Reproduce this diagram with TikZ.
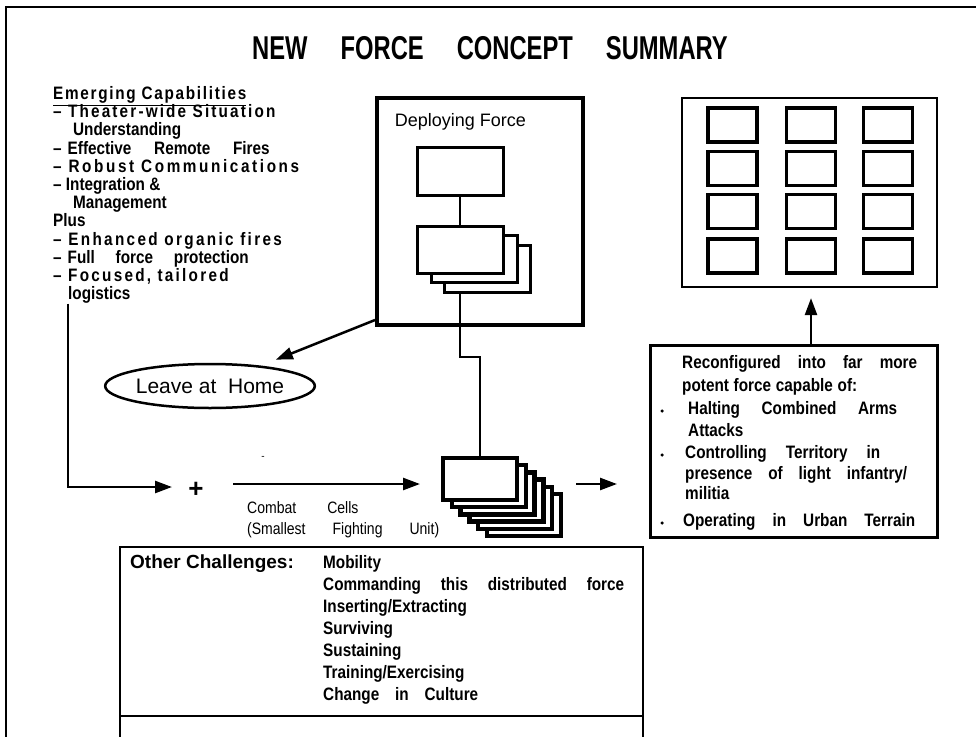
\documentclass[tikz,border=0pt]{standalone}
\usepackage{fontspec}
\setmainfont{Liberation Sans}
\newfontfamily\nar{Liberation Sans}[FakeStretch=0.85]
\newfontfamily\cond{Liberation Sans}[FakeStretch=0.72]
\newcommand\lsp[2]{{\addfontfeature{LetterSpace=#1}#2}}
\usetikzlibrary{arrows.meta,shapes.geometric}
\begin{document}
\begin{tikzpicture}[x=1pt,y=-1pt,
  every node/.style={inner sep=0pt},
  frame/.style={line width=2.5pt},
  dbox/.style={draw,line width=4pt,fill=white},
  cbox/.style={draw,line width=3pt,fill=white},
  sbox/.style={draw,line width=4.5pt,fill=white,minimum width=74pt,minimum height=42pt},
  gbox/.style={draw,line width=3.2pt,minimum width=49pt,minimum height=34pt},
  rbox/.style={draw,line width=3pt},
  obox/.style={draw,line width=2pt},
  conn/.style={line width=2.5pt},
  arr/.style={line width=2.5pt,-{Triangle[length=17pt,width=12pt]}},
  ltxt/.style={anchor=base west,font=\nar\bfseries\fontsize{18}{20}\selectfont},
  rtxt/.style={anchor=base west,font=\nar\bfseries\fontsize{18}{20}\selectfont},
  ctxt/.style={anchor=base west,font=\nar\fontsize{16.5}{18}\selectfont},
  bullet/.style={circle,fill,minimum size=3.5pt}
]
\useasboundingbox (0,0) rectangle (976,736);
\fill[white] (0,0) rectangle (976,736);
% outer frame
\draw[frame] (6,745) -- (6,7) -- (985,7);
% title
\node[font=\cond\bfseries\fontsize{33}{35}\selectfont] (title) at (490,48)
  {NEW\hspace{33pt}FORCE\hspace{33pt}CONCEPT\hspace{33pt}SUMMARY};
% left text
\node[ltxt] (L0) at (53,99.5) {\underline{\lsp{9.5}{Emerging Capabilities}}};
\node[ltxt] (L1) at (53,117.7) {\lsp{12}{– Theater-wide Situation}};
\node[ltxt] (L2) at (73,135.9) {Understanding};
\node[ltxt] (L3) at (53,154.1) {–\hspace{6pt}\makebox[202pt][s]{Effective Remote Fires}};
\node[ltxt] (L4) at (53,172.3) {\lsp{14.5}{– Robust Communications}};
\node[ltxt] (L5) at (53,190.5) {– Integration \&};
\node[ltxt] (L6) at (73,208.7) {Management};
\node[ltxt] (L7) at (53,226.9) {Plus};
\node[ltxt] (L8) at (53,245.1) {\lsp{13}{– Enhanced organic fires}};
\node[ltxt] (L9) at (53,263.3) {–\hspace{6pt}\makebox[181pt][s]{Full force protection}};
\node[ltxt] (L10) at (53,281.5) {\lsp{12.5}{– Focused, tailored}};
\node[ltxt] (L11) at (68,299.7) {logistics};
% deploying force
\node[dbox,minimum width=206pt,minimum height=227pt] (deploy) at (480,211.5) {};
\node[anchor=base,font=\fontsize{18}{20}\selectfont] (dlabel) at (460.5,126.5) {Deploying Force};
\node[cbox,minimum width=86pt,minimum height=48pt] (A) at (460,171) {};
\node[cbox,minimum width=86pt,minimum height=47pt] (F3) at (487,268.5) {};
\node[cbox,minimum width=86pt,minimum height=47pt] (F2) at (474,259) {};
\node[cbox,minimum width=86pt,minimum height=47pt] (F1) at (460,249.5) {};
\draw[conn] (A.south) -- (F1.north);
% leave at home
\node[draw,ellipse,line width=2.5pt,minimum width=184pt,minimum height=44pt,
  font=\fontsize{21}{23}\selectfont] (home) at (210,386) {Leave at\ \ Home};
\draw[arr,shorten >=16pt] ([yshift=7pt]deploy.south west) -- (home);
% combat cells stack
\foreach \k in {5,4,...,0}
  \node[sbox] (C\k) at ({480+8.8*\k},{479+7.2*\k}) {};
\draw[conn] (A.south |- F3.south) -- (460,357) -| (C0.north);
% plus and arrows
\node[font=\bfseries\fontsize{26}{28}\selectfont] (plus) at (196,490) {+};
\node[font=\fontsize{10}{10}\selectfont] (dash) at (263,458) {-};
\coordinate (pa) at (172,487);
\draw[arr] (L11.south west) |- (pa);
\coordinate (ca1) at (233,484);
\coordinate (ca2) at (420,484);
\draw[arr] (ca1) -- (ca2);
\coordinate (sa1) at (576,484);
\coordinate (sa2) at (617,484);
\draw[arr] (sa1) -- (sa2);
\node[ctxt] (cc1) at (247,513) {Combat\hspace{31pt}Cells};
\node[ctxt] (cc2) at (247,534) {\makebox[192pt][s]{(Smallest Fighting Unit)}};
% grid box
\node[draw,line width=2.2pt,minimum width=255pt,minimum height=189pt] (grid) at (809.5,192.5) {};
\foreach \i/\x in {1/732.5,2/811,3/888}
  \foreach \j/\y in {1/125,2/168.5,3/211.5,4/256}
    \node[gbox] (G\i\j) at (\x,\y) {};
% reconfigured box
\node[rbox,minimum width=287pt,minimum height=192pt] (recon) at (793.5,441) {};
\draw[arr,shorten >=10pt] (G24.south |- recon.north) -- (G24.south |- grid.south);
\node[rtxt] (R1) at (682,368.5) {\makebox[235pt][s]{Reconfigured into far more}};
\node[rtxt] (R2) at (682,391.5) {\makebox[175pt][s]{potent force capable of:}};
\node[rtxt] (R3) at (688,414.5) {\makebox[209pt][s]{Halting Combined Arms}};
\node[rtxt] (R4) at (688,436.5) {Attacks};
\node[rtxt] (R5) at (685,458.5) {\makebox[195pt][s]{Controlling Territory in}};
\node[rtxt] (R6) at (685,479.5) {\makebox[222pt][s]{presence of light infantry/}};
\node[rtxt] (R7) at (685,499.5) {militia};
\node[rtxt] (R8) at (683,526.5) {\makebox[232pt][s]{Operating in Urban Terrain}};
\node[bullet] (b1) at (662,411) {};
\node[bullet] (b2) at (662,455) {};
\node[bullet] (b3) at (662,523) {};
% other challenges
\node[obox,minimum width=523pt,minimum height=200pt] (other) at (381.5,647) {};
\draw[obox] (other.west |- 0,716) -- (other.east |- 0,716);
\node[anchor=base west,font=\bfseries\fontsize{19}{21}\selectfont] (oc) at (130,568.5) {Other Challenges:};
\node[rtxt] (O1) at (323,568.5) {Mobility};
\node[rtxt] (O2) at (323,590.5) {\makebox[301pt][s]{Commanding this distributed force}};
\node[rtxt] (O3) at (323,612.5) {Inserting/Extracting};
\node[rtxt] (O4) at (323,634.5) {Surviving};
\node[rtxt] (O5) at (323,656.5) {Sustaining};
\node[rtxt] (O6) at (323,678.5) {Training/Exercising};
\node[rtxt] (O7) at (323,700.5) {\makebox[155pt][s]{Change in Culture}};
\end{tikzpicture}
\end{document}
